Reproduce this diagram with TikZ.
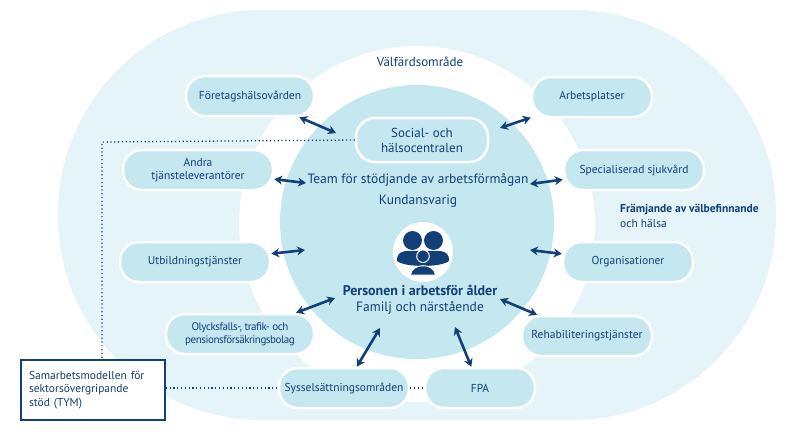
\documentclass[tikz,border=0pt]{standalone}
\usepackage{fontspec}
\setmainfont{PT Sans}
\usetikzlibrary{arrows.meta}
\definecolor{pale}{HTML}{E4F4F8}
\definecolor{mid}{HTML}{C4E7F0}
\definecolor{navy}{HTML}{123F78}
\begin{document}
\begin{tikzpicture}
[x=1pt, y=-1pt, every node/.style={inner sep=0pt, text=navy, font=\fontsize{11.5}{13.5}\selectfont},
 pill/.style={rounded corners=19pt, fill=mid, draw=white, line width=2.5pt, align=center, minimum height=40pt},
 link/.style={line width=2.6pt, color=navy, {Stealth[length=8pt,width=9pt]}-{Stealth[length=8pt,width=9pt]}},
 dots/.style={line width=1.3pt, color=navy, dash pattern=on 1.2pt off 2.6pt}]
\useasboundingbox (0,0) rectangle (800,440);
% background rings
\fill[pale, rounded corners=204pt] (58,10) rectangle (776,420);
\fill[white] (417,224) circle[radius=178];
\fill[mid] (417,222) circle[radius=137];
% nodes
\node (foretag) [pill, minimum width=128pt] at (250,96) {Företagshälsovården};
\node (arbets) [pill, minimum width=120pt] at (592,97) {Arbetsplatser};
\node (social) [pill, minimum width=132pt, minimum height=44pt, font=\fontsize{13}{15}\selectfont] at (422,140) {Social- och\\hälsocentralen};
\node (andra) [pill, minimum width=150pt] at (198,170) {Andra\\tjänsteleverantörer};
\node (spec) [pill, minimum width=140pt] at (634,170) {Specialiserad sjukvård};
\node (team) [font=\fontsize{13.5}{15}\selectfont] at (418,180) {Team för stödjande av arbetsförmågan};
\node (kund) [font=\fontsize{13.5}{15}\selectfont] at (418,201) {Kundansvarig};
\node (framj) [anchor=west, align=left, font=\fontsize{11.5}{15}\selectfont] at (620,216) {\textbf{Främjande av välbefinnande}\\och hälsa};
\node (valf) [font=\fontsize{13}{15}\selectfont] at (420,62) {Välfärdsområde};
\node (utb) [pill, minimum width=150pt] at (195,262) {Utbildningstjänster};
\node (org) [pill, minimum width=130pt] at (628,262) {Organisationer};
\node (icon) [circle, fill=white, minimum size=60pt] at (423,252) {};
\node (person) [font=\bfseries\fontsize{14}{15}\selectfont] at (420,290) {Personen i arbetsför ålder};
\node (familj) [font=\fontsize{13.5}{15}\selectfont] at (420,308) {Familj och närstående};
\node (olyck) [pill, minimum width=148pt, font=\fontsize{11}{13}\selectfont\addfontfeature{LetterSpace=-4}] at (240,334) {Olycksfalls-, trafik- och\\pensionsförsäkringsbolag};
\node (rehab) [pill, minimum width=130pt] at (587,336) {Rehabiliteringstjänster};
\node (syssel) [pill, minimum width=130pt] at (344,388) {Sysselsättningsområden};
\node (fpa) [pill, minimum width=110pt] at (480,388) {FPA};
\node (tym) [draw=navy, line width=1.5pt, fill=white, minimum width=144pt, minimum height=60pt, align=left, text width=128pt] at (93,390) {Samarbetsmodellen för\\sektorsövergripande\\stöd (TYM)};
% persons in icon
\begin{scope}[shift={(icon.center)}, scale=1.05]
\fill[navy] (-10,-11) circle[radius=9];
\fill[navy] (10,-11) circle[radius=9];
\fill[navy] (-25,8) .. controls (-24,-3) and (-16,-1) .. (0,-1) .. controls (16,-1) and (24,-3) .. (25,8) .. controls (20,15) and (-20,15) .. cycle;
\fill[navy, draw=white, line width=1pt] (0,4) circle[radius=6];
\fill[navy, draw=white, line width=1pt] (-12,22) .. controls (-11,10) and (11,10) .. (12,22) -- cycle;
\end{scope}
% connectors
\coordinate (c1) at (336,133); \coordinate (c2) at (500,128);
\coordinate (c3) at (306,183); \coordinate (c4) at (530,184);
\coordinate (c5) at (305,250); \coordinate (c6) at (530,250);
\coordinate (c7) at (335,298); \coordinate (c8) at (500,299);
\coordinate (c9) at (380,328); \coordinate (c10) at (455,327);
\draw[link] (foretag) -- (c1);
\draw[link] (arbets) -- (c2);
\draw[link] (andra) -- (c3);
\draw[link] (spec) -- (c4);
\draw[link] (utb) -- (c5);
\draw[link] (org) -- (c6);
\draw[link] (olyck) -- (c7);
\draw[link] (rehab) -- (c8);
\draw[link] (syssel) -- (c9);
\draw[link] (fpa) -- (c10);
\draw[dots] (social.west) -- (102,142) -- (tym.north -| 102,0);
\draw[dots] (tym.east |- syssel) -- (syssel.west);
\draw[dots] (syssel) -- (fpa);
\end{tikzpicture}
\end{document}
